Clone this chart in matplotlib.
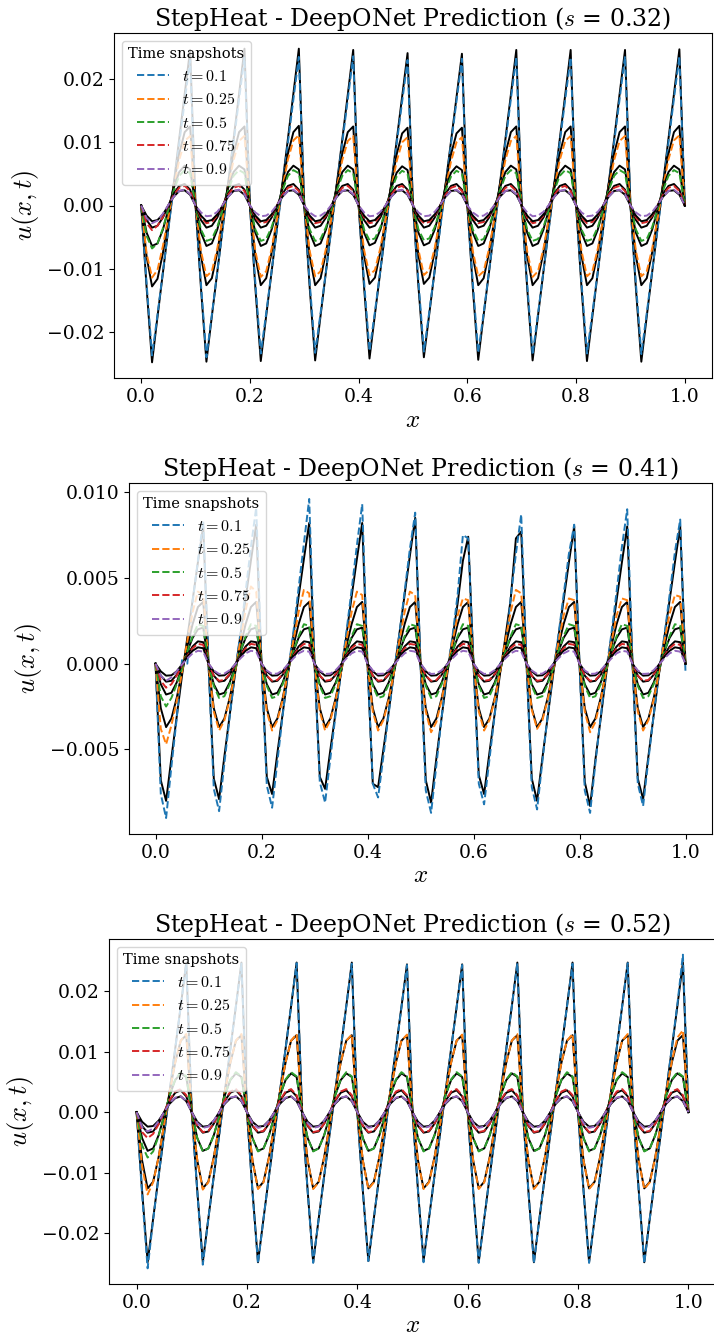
import numpy as np
import matplotlib
matplotlib.use('Agg')
import matplotlib.pyplot as plt
from matplotlib import ticker

plt.rcParams['font.family'] = 'serif'
plt.rcParams['font.serif'] = ['DejaVu Serif']
plt.rcParams['mathtext.fontset'] = 'cm'

# grid and snapshot times
x = np.linspace(0, 1, 101)
times = ['0.1', '0.25', '0.5', '0.75', '0.9']
s_values = ['0.32', '0.41', '0.52']
colors = ['#1f77b4', '#ff7f0e', '#2ca02c', '#d62728', '#9467bd']

# ---- s = 0.32 (values in 1e-3) ----
top_true_01 = [0, -13.0, -24.8, -17.6, -10.6, -3.6, 3.5, 10.6, 17.6, 24.6,
               0, -13.1, -24.7, -17.5, -10.5, -3.5, 3.5, 10.5, 17.6, 24.8,
               0, -13.0, -24.6, -17.4, -10.4, -3.4, 3.6, 10.6, 17.7, 24.8,
               0, -13.0, -24.5, -17.4, -10.4, -3.4, 3.5, 10.5, 17.5, 24.6,
               0, -12.9, -24.2, -17.2, -10.3, -3.4, 3.4, 10.3, 17.2, 24.1,
               0, -12.8, -24.0, -17.1, -10.2, -3.3, 3.4, 10.2, 17.1, 24.0,
               0, -13.0, -24.4, -17.3, -10.4, -3.4, 3.5, 10.5, 17.5, 24.6,
               0, -13.0, -24.5, -17.4, -10.4, -3.4, 3.5, 10.5, 17.5, 24.6,
               0, -13.0, -24.6, -17.5, -10.5, -3.5, 3.5, 10.5, 17.6, 24.6,
               0, -13.1, -24.7, -17.5, -10.5, -3.5, 3.5, 10.6, 17.6, 24.7,
               0]
top_pred_01 = [0, -12.4, -23.7, -17.3, -10.5, -3.7, 3.1, 9.8, 16.5, 23.0,
               0, -12.5, -24.0, -17.3, -10.5, -3.6, 3.2, 10.0, 16.8, 23.4,
               0, -12.2, -23.4, -17.0, -10.3, -3.6, 3.2, 10.0, 16.8, 23.5,
               0, -12.2, -23.3, -17.0, -10.3, -3.6, 3.2, 10.0, 16.8, 23.6,
               0, -12.0, -23.0, -16.8, -10.2, -3.6, 3.1, 9.8, 16.4, 23.0,
               0, -12.0, -23.1, -16.8, -10.2, -3.6, 3.1, 9.8, 16.5, 23.2,
               0, -12.2, -23.3, -17.0, -10.3, -3.6, 3.2, 10.0, 16.8, 23.5,
               0, -12.3, -23.6, -17.1, -10.4, -3.6, 3.2, 10.0, 16.8, 23.4,
               0, -12.2, -23.4, -17.0, -10.3, -3.6, 3.2, 10.0, 16.8, 23.6,
               0, -12.3, -23.5, -17.0, -10.3, -3.6, 3.2, 10.0, 16.9, 23.6,
               0]
top_true_025 = [0, -8.1, -12.8, -11.6, -7.5, -2.0, 3.4, 8.2, 11.6, 12.5,
                0, -8.0, -12.6, -11.5, -7.4, -2.0, 3.4, 8.2, 11.6, 12.5,
                0, -8.0, -12.6, -11.5, -7.4, -2.0, 3.4, 8.2, 11.6, 12.6,
                0, -8.0, -12.6, -11.5, -7.4, -2.0, 3.4, 8.2, 11.6, 12.5,
                0, -7.9, -12.4, -11.4, -7.3, -2.0, 3.3, 8.1, 11.4, 12.3,
                0, -7.9, -12.4, -11.4, -7.3, -2.0, 3.3, 8.1, 11.4, 12.3,
                0, -8.0, -12.6, -11.5, -7.4, -2.0, 3.4, 8.2, 11.6, 12.5,
                0, -8.0, -12.6, -11.5, -7.4, -2.0, 3.4, 8.2, 11.6, 12.5,
                0, -8.0, -12.6, -11.5, -7.4, -2.0, 3.4, 8.2, 11.6, 12.5,
                0, -8.0, -12.6, -11.5, -7.4, -2.0, 3.4, 8.2, 11.6, 12.6,
                0]
top_pred_025 = [0, -7.6, -11.4, -10.2, -6.4, -1.8, 2.9, 7.2, 10.2, 11.0,
                0, -7.2, -11.2, -10.4, -6.8, -2.0, 2.9, 7.2, 10.2, 11.0,
                0, -7.2, -11.3, -10.4, -6.8, -2.0, 2.9, 7.3, 10.3, 11.1,
                0, -7.2, -11.2, -10.4, -6.8, -2.0, 2.9, 7.2, 10.2, 11.0,
                0, -7.0, -11.0, -10.2, -6.7, -2.0, 2.8, 7.0, 10.0, 10.8,
                0, -7.0, -11.0, -10.2, -6.7, -2.0, 2.8, 7.0, 10.0, 10.8,
                0, -7.2, -11.2, -10.4, -6.8, -2.0, 2.9, 7.2, 10.2, 11.0,
                0, -7.2, -11.3, -10.4, -6.8, -2.0, 2.9, 7.2, 10.2, 11.0,
                0, -7.2, -11.2, -10.4, -6.8, -2.0, 2.9, 7.2, 10.2, 11.0,
                0, -7.2, -11.2, -10.4, -6.8, -2.0, 2.9, 7.3, 10.3, 11.1,
                0]
top_true_05 = [0, -4.3, -6.4, -6.0, -3.8, -0.6, 2.8, 5.3, 6.3, 5.7,
               0, -4.3, -6.4, -6.0, -3.8, -0.6, 2.8, 5.3, 6.3, 5.7,
               0, -4.3, -6.4, -6.0, -3.8, -0.6, 2.8, 5.3, 6.3, 5.7,
               0, -4.3, -6.4, -6.0, -3.8, -0.6, 2.8, 5.3, 6.3, 5.7,
               0, -4.3, -6.3, -5.9, -3.8, -0.6, 2.8, 5.2, 6.2, 5.6,
               0, -4.3, -6.3, -5.9, -3.8, -0.6, 2.8, 5.2, 6.2, 5.6,
               0, -4.3, -6.4, -6.0, -3.8, -0.6, 2.8, 5.3, 6.3, 5.7,
               0, -4.3, -6.4, -6.0, -3.8, -0.6, 2.8, 5.3, 6.3, 5.7,
               0, -4.3, -6.4, -6.0, -3.8, -0.6, 2.8, 5.3, 6.3, 5.7,
               0, -4.3, -6.4, -6.0, -3.8, -0.6, 2.8, 5.3, 6.3, 5.7,
               0]
top_pred_05 = [0, -4.8, -6.8, -6.0, -3.6, -0.6, 2.4, 4.7, 5.6, 5.1,
               0, -3.8, -5.6, -5.3, -3.4, -0.6, 2.4, 4.7, 5.6, 5.1,
               0, -3.8, -5.6, -5.3, -3.4, -0.6, 2.4, 4.7, 5.6, 5.1,
               0, -3.8, -5.6, -5.3, -3.4, -0.6, 2.4, 4.7, 5.6, 5.1,
               0, -3.8, -5.5, -5.2, -3.4, -0.6, 2.4, 4.6, 5.5, 5.0,
               0, -3.8, -5.5, -5.2, -3.4, -0.6, 2.4, 4.6, 5.5, 5.0,
               0, -3.8, -5.6, -5.3, -3.4, -0.6, 2.4, 4.7, 5.6, 5.1,
               0, -3.8, -5.6, -5.3, -3.4, -0.6, 2.4, 4.7, 5.6, 5.1,
               0, -3.8, -5.6, -5.3, -3.4, -0.6, 2.4, 4.7, 5.6, 5.1,
               0, -3.8, -5.6, -5.3, -3.4, -0.6, 2.4, 4.7, 5.6, 5.1,
               0]
top_true_075 = [0, -2.3, -3.5, -3.2, -1.9, 0.0, 1.9, 3.1, 3.4, 2.5,
                0, -2.3, -3.5, -3.2, -1.9, 0.0, 1.9, 3.1, 3.4, 2.5,
                0, -2.3, -3.5, -3.2, -1.9, 0.0, 1.9, 3.1, 3.4, 2.5,
                0, -2.3, -3.5, -3.2, -1.9, 0.0, 1.9, 3.1, 3.4, 2.5,
                0, -2.3, -3.5, -3.2, -1.9, 0.0, 1.9, 3.1, 3.4, 2.5,
                0, -2.3, -3.5, -3.2, -1.9, 0.0, 1.9, 3.1, 3.4, 2.5,
                0, -2.3, -3.5, -3.2, -1.9, 0.0, 1.9, 3.1, 3.4, 2.5,
                0, -2.3, -3.5, -3.2, -1.9, 0.0, 1.9, 3.1, 3.4, 2.5,
                0, -2.3, -3.5, -3.2, -1.9, 0.0, 1.9, 3.1, 3.4, 2.5,
                0, -2.3, -3.5, -3.2, -1.9, 0.0, 1.9, 3.1, 3.4, 2.5,
                0]
top_pred_075 = [0, -2.8, -3.9, -3.2, -1.8, 0.0, 1.7, 2.8, 3.1, 2.3,
                0, -1.9, -2.8, -2.6, -1.6, 0.0, 1.7, 2.8, 3.1, 2.3,
                0, -1.9, -2.8, -2.6, -1.6, 0.0, 1.7, 2.8, 3.1, 2.3,
                0, -1.9, -2.8, -2.6, -1.6, 0.0, 1.7, 2.8, 3.1, 2.3,
                0, -1.9, -2.8, -2.6, -1.6, 0.0, 1.7, 2.8, 3.1, 2.3,
                0, -1.9, -2.8, -2.6, -1.6, 0.0, 1.7, 2.8, 3.1, 2.3,
                0, -1.9, -2.8, -2.6, -1.6, 0.0, 1.7, 2.8, 3.1, 2.3,
                0, -1.9, -2.8, -2.6, -1.6, 0.0, 1.7, 2.8, 3.1, 2.3,
                0, -1.9, -2.8, -2.6, -1.6, 0.0, 1.7, 2.8, 3.1, 2.3,
                0, -1.9, -2.8, -2.6, -1.6, 0.0, 1.7, 2.8, 3.1, 2.3,
                0]
top_true_09 = [0, -1.6, -2.5, -2.3, -1.4, 0.0, 1.4, 2.3, 2.4, 1.7,
               0, -1.6, -2.5, -2.3, -1.4, 0.0, 1.4, 2.3, 2.4, 1.7,
               0, -1.6, -2.5, -2.3, -1.4, 0.0, 1.4, 2.3, 2.4, 1.7,
               0, -1.6, -2.5, -2.3, -1.4, 0.0, 1.4, 2.3, 2.4, 1.7,
               0, -1.6, -2.5, -2.3, -1.4, 0.0, 1.4, 2.3, 2.4, 1.7,
               0, -1.6, -2.5, -2.3, -1.4, 0.0, 1.4, 2.3, 2.4, 1.7,
               0, -1.6, -2.5, -2.3, -1.4, 0.0, 1.4, 2.3, 2.4, 1.7,
               0, -1.6, -2.5, -2.3, -1.4, 0.0, 1.4, 2.3, 2.4, 1.7,
               0, -1.6, -2.5, -2.3, -1.4, 0.0, 1.4, 2.3, 2.4, 1.7,
               0, -1.6, -2.5, -2.3, -1.4, 0.0, 1.4, 2.3, 2.4, 1.7,
               0]
top_pred_09 = [0, -2.0, -2.8, -2.4, -1.3, 0.1, 1.4, 2.3, 2.5, 1.8,
               0, -1.1, -1.7, -1.6, -1.0, 0.1, 1.4, 2.3, 2.5, 1.8,
               0, -1.1, -1.7, -1.6, -1.0, 0.1, 1.4, 2.3, 2.5, 1.8,
               0, -1.1, -1.7, -1.6, -1.0, 0.1, 1.4, 2.3, 2.5, 1.8,
               0, -1.1, -1.7, -1.6, -1.0, 0.1, 1.4, 2.3, 2.5, 1.8,
               0, -1.1, -1.7, -1.6, -1.0, 0.1, 1.4, 2.3, 2.5, 1.8,
               0, -1.1, -1.7, -1.6, -1.0, 0.1, 1.4, 2.3, 2.5, 1.8,
               0, -1.1, -1.7, -1.6, -1.0, 0.1, 1.4, 2.3, 2.5, 1.8,
               0, -1.1, -1.7, -1.6, -1.0, 0.1, 1.4, 2.3, 2.5, 1.8,
               0, -1.1, -1.7, -1.6, -1.0, 0.1, 1.4, 2.3, 2.5, 1.8,
               0]

# ---- s = 0.41 (values in 1e-3) ----
mid_true_01 = [0, -6.8, -8.0, -5.5, -3.1, -0.7, 1.5, 3.7, 5.9, 8.0,
               0, -6.7, -7.9, -5.4, -3.0, -0.6, 1.6, 3.8, 6.0, 8.1,
               0, -6.6, -7.6, -5.2, -2.9, -0.6, 1.6, 3.9, 6.1, 8.2,
               0, -6.6, -7.3, -5.0, -2.8, -0.5, 1.6, 3.9, 6.1, 8.2,
               0, -7.0, -7.2, -5.0, -2.8, -0.5, 1.7, 4.0, 6.3, 8.5,
               0, -6.8, -8.1, -5.5, -3.1, -0.7, 1.4, 3.5, 6.0, 7.4,
               0, -6.5, -7.6, -5.2, -2.9, -0.6, 1.5, 3.7, 7.3, 7.7,
               0, -6.7, -8.0, -5.5, -3.1, -0.7, 1.5, 3.7, 5.9, 8.0,
               0, -6.9, -8.3, -5.6, -3.2, -0.7, 1.5, 3.7, 5.9, 8.0,
               0, -6.7, -7.9, -5.4, -3.0, -0.6, 1.5, 3.7, 5.9, 8.0,
               0]
mid_pred_01 = [0, -7.6, -9.0, -6.0, -3.2, 0.2, 0.0, 3.6, 6.0, 8.3,
               0, -7.3, -8.6, -5.8, -3.1, -0.5, 1.7, 4.2, 6.8, 9.1,
               0, -7.1, -8.4, -5.7, -3.0, -0.5, 1.8, 4.4, 7.0, 9.6,
               0, -6.9, -8.1, -5.5, -2.9, -0.5, 1.8, 4.3, 6.9, 9.3,
               0, -7.0, -7.8, -5.4, -2.9, -0.5, 1.7, 4.2, 6.7, 8.8,
               0, -7.4, -8.7, -5.9, -3.1, -0.5, 1.5, 4.0, 7.5, 7.3,
               0, -7.0, -8.2, -5.6, -3.0, 0.0, 0.4, 3.8, 6.4, 8.7,
               0, -7.2, -8.5, -5.7, -3.0, -0.5, 1.6, 4.0, 6.4, 8.1,
               0, -7.4, -8.7, -5.8, -3.1, -0.5, 1.7, 4.2, 6.8, 9.0,
               0, -7.0, -8.3, -5.6, -3.0, -0.5, 1.6, 4.0, 6.5, 8.4,
               -0.5]
mid_true_025 = [0, -2.6, -3.7, -3.2, -2.0, -0.5, 1.0, 2.3, 3.3, 3.6,
                0, -2.6, -3.7, -3.2, -2.0, -0.5, 1.0, 2.3, 3.3, 3.6,
                0, -2.6, -3.7, -3.2, -2.0, -0.5, 1.0, 2.3, 3.3, 3.6,
                0, -2.6, -3.7, -3.2, -2.0, -0.5, 1.0, 2.3, 3.3, 3.6,
                0, -2.6, -3.7, -3.2, -2.0, -0.5, 1.0, 2.3, 3.3, 3.6,
                0, -2.6, -3.7, -3.2, -2.0, -0.5, 1.0, 2.3, 3.3, 3.6,
                0, -2.6, -3.7, -3.2, -2.0, -0.5, 1.0, 2.3, 3.3, 3.6,
                0, -2.6, -3.7, -3.2, -2.0, -0.5, 1.0, 2.3, 3.3, 3.6,
                0, -2.6, -3.7, -3.2, -2.0, -0.5, 1.0, 2.3, 3.3, 3.6,
                0, -2.6, -3.7, -3.2, -2.0, -0.5, 1.0, 2.3, 3.3, 3.6,
                0]
mid_pred_025 = [0, -3.8, -4.7, -3.6, -2.2, -0.5, 1.3, 3.0, 4.2, 4.0,
                0, -2.8, -3.9, -3.3, -2.1, -0.5, 1.3, 3.1, 4.5, 4.2,
                0, -2.8, -3.9, -3.3, -2.1, -0.5, 1.3, 3.0, 4.3, 4.1,
                0, -2.8, -3.9, -3.3, -2.1, -0.5, 1.3, 3.0, 4.2, 4.0,
                0, -2.8, -3.9, -3.3, -2.1, -0.5, 1.3, 3.0, 4.2, 4.0,
                0, -2.8, -4.0, -3.4, -2.1, -0.5, 1.2, 2.8, 3.8, 3.7,
                0, -2.8, -3.9, -3.3, -2.1, -0.5, 1.3, 3.0, 4.3, 4.1,
                0, -2.7, -3.8, -3.3, -2.1, -0.5, 1.2, 2.8, 3.8, 3.7,
                0, -2.8, -4.0, -3.4, -2.1, -0.5, 1.2, 2.8, 3.8, 3.7,
                0, -2.8, -3.9, -3.3, -2.1, -0.5, 1.3, 2.9, 4.0, 3.9,
                0]
mid_true_05 = [0, -1.2, -1.8, -1.7, -1.1, -0.2, 0.7, 1.5, 2.0, 2.1,
               0, -1.2, -1.8, -1.7, -1.1, -0.2, 0.7, 1.5, 2.0, 2.1,
               0, -1.2, -1.8, -1.7, -1.1, -0.2, 0.7, 1.5, 2.0, 2.1,
               0, -1.2, -1.8, -1.7, -1.1, -0.2, 0.7, 1.5, 2.0, 2.1,
               0, -1.2, -1.8, -1.7, -1.1, -0.2, 0.7, 1.5, 2.0, 2.1,
               0, -1.2, -1.8, -1.7, -1.1, -0.2, 0.7, 1.5, 2.0, 2.1,
               0, -1.2, -1.8, -1.7, -1.1, -0.2, 0.7, 1.5, 2.0, 2.1,
               0, -1.2, -1.8, -1.7, -1.1, -0.2, 0.7, 1.5, 2.0, 2.1,
               0, -1.2, -1.8, -1.7, -1.1, -0.2, 0.7, 1.5, 2.0, 2.1,
               0, -1.2, -1.8, -1.7, -1.1, -0.2, 0.7, 1.5, 2.0, 2.1,
               0]
mid_pred_05 = [0, -1.9, -2.5, -2.0, -1.2, -0.3, 0.7, 1.6, 2.3, 2.2,
               0, -1.3, -2.0, -1.9, -1.2, -0.3, 0.7, 1.6, 2.3, 2.2,
               0, -1.3, -2.0, -1.9, -1.2, -0.3, 0.7, 1.6, 2.3, 2.2,
               0, -1.3, -2.0, -1.9, -1.2, -0.3, 0.7, 1.6, 2.3, 2.2,
               0, -1.3, -2.0, -1.9, -1.2, -0.3, 0.7, 1.6, 2.3, 2.2,
               0, -1.3, -2.0, -1.9, -1.2, -0.3, 0.7, 1.6, 2.3, 2.2,
               0, -1.3, -2.0, -1.9, -1.2, -0.3, 0.7, 1.6, 2.3, 2.2,
               0, -1.3, -2.0, -1.9, -1.2, -0.3, 0.7, 1.6, 2.3, 2.2,
               0, -1.3, -2.0, -1.9, -1.2, -0.3, 0.7, 1.6, 2.3, 2.2,
               0, -1.3, -2.0, -1.9, -1.2, -0.3, 0.7, 1.6, 2.3, 2.2,
               0]
mid_true_075 = [0, -0.7, -1.05, -1.0, -0.65, -0.1, 0.5, 1.0, 1.3, 1.25,
                0, -0.7, -1.05, -1.0, -0.65, -0.1, 0.5, 1.0, 1.3, 1.25,
                0, -0.7, -1.05, -1.0, -0.65, -0.1, 0.5, 1.0, 1.3, 1.25,
                0, -0.7, -1.05, -1.0, -0.65, -0.1, 0.5, 1.0, 1.3, 1.25,
                0, -0.7, -1.05, -1.0, -0.65, -0.1, 0.5, 1.0, 1.3, 1.25,
                0, -0.7, -1.05, -1.0, -0.65, -0.1, 0.5, 1.0, 1.3, 1.25,
                0, -0.7, -1.05, -1.0, -0.65, -0.1, 0.5, 1.0, 1.3, 1.25,
                0, -0.7, -1.05, -1.0, -0.65, -0.1, 0.5, 1.0, 1.3, 1.25,
                0, -0.7, -1.05, -1.0, -0.65, -0.1, 0.5, 1.0, 1.3, 1.25,
                0, -0.7, -1.05, -1.0, -0.65, -0.1, 0.5, 1.0, 1.3, 1.25,
                0]
mid_pred_075 = [0, -1.0, -1.4, -1.2, -0.7, -0.1, 0.45, 0.9, 1.15, 1.1,
                0, -0.7, -1.0, -0.95, -0.6, -0.1, 0.45, 0.9, 1.15, 1.1,
                0, -0.7, -1.0, -0.95, -0.6, -0.1, 0.45, 0.9, 1.15, 1.1,
                0, -0.7, -1.0, -0.95, -0.6, -0.1, 0.45, 0.9, 1.15, 1.1,
                0, -0.7, -1.0, -0.95, -0.6, -0.1, 0.45, 0.9, 1.15, 1.1,
                0, -0.7, -1.0, -0.95, -0.6, -0.1, 0.45, 0.9, 1.15, 1.1,
                0, -0.7, -1.0, -0.95, -0.6, -0.1, 0.45, 0.9, 1.15, 1.1,
                0, -0.7, -1.0, -0.95, -0.6, -0.1, 0.45, 0.9, 1.15, 1.1,
                0, -0.7, -1.0, -0.95, -0.6, -0.1, 0.45, 0.9, 1.15, 1.1,
                0, -0.7, -1.0, -0.95, -0.6, -0.1, 0.45, 0.9, 1.15, 1.1,
                0]
mid_true_09 = [0, -0.45, -0.7, -0.68, -0.45, -0.05, 0.4, 0.75, 0.95, 0.9,
               0, -0.45, -0.7, -0.68, -0.45, -0.05, 0.4, 0.75, 0.95, 0.9,
               0, -0.45, -0.7, -0.68, -0.45, -0.05, 0.4, 0.75, 0.95, 0.9,
               0, -0.45, -0.7, -0.68, -0.45, -0.05, 0.4, 0.75, 0.95, 0.9,
               0, -0.45, -0.7, -0.68, -0.45, -0.05, 0.4, 0.75, 0.95, 0.9,
               0, -0.45, -0.7, -0.68, -0.45, -0.05, 0.4, 0.75, 0.95, 0.9,
               0, -0.45, -0.7, -0.68, -0.45, -0.05, 0.4, 0.75, 0.95, 0.9,
               0, -0.45, -0.7, -0.68, -0.45, -0.05, 0.4, 0.75, 0.95, 0.9,
               0, -0.45, -0.7, -0.68, -0.45, -0.05, 0.4, 0.75, 0.95, 0.9,
               0, -0.45, -0.7, -0.68, -0.45, -0.05, 0.4, 0.75, 0.95, 0.9,
               0]
mid_pred_09 = [0, -0.7, -1.0, -0.8, -0.45, -0.05, 0.3, 0.6, 0.75, 0.7,
               0, -0.4, -0.6, -0.58, -0.38, -0.05, 0.3, 0.6, 0.75, 0.7,
               0, -0.4, -0.6, -0.58, -0.38, -0.05, 0.3, 0.6, 0.75, 0.7,
               0, -0.4, -0.6, -0.58, -0.38, -0.05, 0.3, 0.6, 0.75, 0.7,
               0, -0.4, -0.6, -0.58, -0.38, -0.05, 0.3, 0.6, 0.75, 0.7,
               0, -0.4, -0.6, -0.58, -0.38, -0.05, 0.3, 0.6, 0.75, 0.7,
               0, -0.4, -0.6, -0.58, -0.38, -0.05, 0.3, 0.6, 0.75, 0.7,
               0, -0.4, -0.6, -0.58, -0.38, -0.05, 0.3, 0.6, 0.75, 0.7,
               0, -0.4, -0.6, -0.58, -0.38, -0.05, 0.3, 0.6, 0.75, 0.7,
               0, -0.4, -0.6, -0.58, -0.38, -0.05, 0.3, 0.6, 0.75, 0.7,
               0]

# ---- s = 0.52 (values in 1e-3) ----
bot_true_01 = [0, -13.0, -24.8, -17.6, -10.5, -3.5, 3.5, 10.5, 17.5, 24.7,
               0, -13.0, -24.8, -17.6, -10.5, -3.5, 3.5, 10.5, 17.5, 24.7,
               0, -13.0, -24.8, -17.6, -10.5, -3.5, 3.5, 10.5, 17.5, 24.7,
               0, -13.0, -24.8, -17.6, -10.5, -3.5, 3.5, 10.5, 17.5, 24.7,
               0, -13.0, -24.6, -17.5, -10.4, -3.5, 3.5, 10.5, 17.4, 24.4,
               0, -13.0, -24.6, -17.5, -10.4, -3.5, 3.5, 10.5, 17.4, 24.4,
               0, -13.0, -24.8, -17.6, -10.5, -3.5, 3.5, 10.5, 17.5, 24.7,
               0, -13.0, -24.8, -17.6, -10.5, -3.5, 3.5, 10.5, 17.5, 24.7,
               0, -13.0, -24.8, -17.6, -10.5, -3.5, 3.5, 10.5, 17.5, 24.7,
               0, -13.0, -24.8, -17.6, -10.5, -3.5, 3.5, 10.5, 17.5, 24.7,
               0]
bot_pred_01 = [0, -13.6, -25.8, -17.8, -10.5, -3.5, 3.5, 10.5, 17.5, 24.5,
               0, -13.2, -25.2, -17.6, -10.5, -3.5, 3.5, 10.5, 17.5, 24.5,
               0, -13.2, -25.0, -17.6, -10.5, -3.5, 3.5, 10.5, 17.5, 24.6,
               0, -13.1, -24.9, -17.6, -10.5, -3.5, 3.5, 10.5, 17.5, 24.5,
               0, -13.0, -24.6, -17.5, -10.4, -3.5, 3.5, 10.4, 17.3, 24.3,
               0, -13.0, -24.8, -17.5, -10.4, -3.5, 3.5, 10.4, 17.3, 24.3,
               0, -13.1, -24.9, -17.6, -10.5, -3.5, 3.5, 10.5, 17.5, 24.6,
               0, -13.1, -25.0, -17.6, -10.5, -3.5, 3.5, 10.5, 17.5, 24.5,
               0, -13.1, -24.9, -17.6, -10.5, -3.5, 3.5, 10.5, 17.5, 24.6,
               0, -13.1, -25.0, -17.6, -10.5, -3.5, 3.6, 10.7, 17.8, 26.0,
               0]
bot_true_025 = [0, -8.0, -12.6, -11.5, -7.4, -2.0, 3.4, 8.2, 11.8, 12.7,
                0, -8.0, -12.6, -11.5, -7.4, -2.0, 3.4, 8.2, 11.8, 12.7,
                0, -8.0, -12.6, -11.5, -7.4, -2.0, 3.4, 8.2, 11.8, 12.7,
                0, -8.0, -12.6, -11.5, -7.4, -2.0, 3.4, 8.2, 11.8, 12.7,
                0, -8.0, -12.6, -11.5, -7.4, -2.0, 3.4, 8.2, 11.8, 12.7,
                0, -8.0, -12.6, -11.5, -7.4, -2.0, 3.4, 8.2, 11.8, 12.7,
                0, -8.0, -12.6, -11.5, -7.4, -2.0, 3.4, 8.2, 11.8, 12.7,
                0, -8.0, -12.6, -11.5, -7.4, -2.0, 3.4, 8.2, 11.8, 12.7,
                0, -8.0, -12.6, -11.5, -7.4, -2.0, 3.4, 8.2, 11.8, 12.7,
                0, -8.0, -12.6, -11.5, -7.4, -2.0, 3.4, 8.2, 11.8, 12.7,
                0]
bot_pred_025 = [0, -9.0, -13.6, -11.6, -7.4, -2.0, 3.4, 8.2, 11.8, 12.9,
                0, -8.0, -12.8, -11.6, -7.5, -2.0, 3.4, 8.2, 11.8, 12.9,
                0, -8.0, -12.7, -11.6, -7.5, -2.0, 3.4, 8.2, 11.8, 12.9,
                0, -8.0, -12.7, -11.6, -7.5, -2.0, 3.4, 8.2, 11.8, 12.8,
                0, -8.0, -12.7, -11.6, -7.5, -2.0, 3.4, 8.2, 11.8, 12.8,
                0, -8.0, -12.7, -11.6, -7.5, -2.0, 3.4, 8.2, 11.8, 12.8,
                0, -8.0, -12.7, -11.6, -7.5, -2.0, 3.4, 8.2, 11.8, 12.9,
                0, -8.0, -12.7, -11.6, -7.5, -2.0, 3.4, 8.2, 11.8, 12.9,
                0, -8.0, -12.7, -11.6, -7.5, -2.0, 3.4, 8.2, 11.8, 12.9,
                0, -8.0, -12.7, -11.6, -7.5, -2.0, 3.5, 8.4, 12.3, 13.5,
                0]
bot_true_05 = [0, -4.3, -6.4, -6.0, -3.8, -0.6, 2.8, 5.3, 6.4, 5.8,
               0, -4.3, -6.4, -6.0, -3.8, -0.6, 2.8, 5.3, 6.4, 5.8,
               0, -4.3, -6.4, -6.0, -3.8, -0.6, 2.8, 5.3, 6.4, 5.8,
               0, -4.3, -6.4, -6.0, -3.8, -0.6, 2.8, 5.3, 6.4, 5.8,
               0, -4.3, -6.4, -6.0, -3.8, -0.6, 2.8, 5.3, 6.4, 5.8,
               0, -4.3, -6.4, -6.0, -3.8, -0.6, 2.8, 5.3, 6.4, 5.8,
               0, -4.3, -6.4, -6.0, -3.8, -0.6, 2.8, 5.3, 6.4, 5.8,
               0, -4.3, -6.4, -6.0, -3.8, -0.6, 2.8, 5.3, 6.4, 5.8,
               0, -4.3, -6.4, -6.0, -3.8, -0.6, 2.8, 5.3, 6.4, 5.8,
               0, -4.3, -6.4, -6.0, -3.8, -0.6, 2.8, 5.3, 6.4, 5.8,
               0]
bot_pred_05 = [0, -5.5, -7.5, -6.5, -3.9, -0.6, 2.8, 5.4, 6.6, 5.9,
               0, -4.3, -6.5, -6.0, -3.8, -0.6, 2.8, 5.4, 6.6, 5.9,
               0, -4.3, -6.5, -6.0, -3.8, -0.6, 2.8, 5.4, 6.6, 5.9,
               0, -4.3, -6.5, -6.0, -3.8, -0.6, 2.8, 5.4, 6.6, 5.9,
               0, -4.3, -6.5, -6.0, -3.8, -0.6, 2.8, 5.4, 6.6, 5.9,
               0, -4.3, -6.5, -6.0, -3.8, -0.6, 2.8, 5.4, 6.6, 5.9,
               0, -4.3, -6.5, -6.0, -3.8, -0.6, 2.8, 5.4, 6.6, 5.9,
               0, -4.3, -6.5, -6.0, -3.8, -0.6, 2.8, 5.4, 6.6, 5.9,
               0, -4.3, -6.5, -6.0, -3.8, -0.6, 2.8, 5.4, 6.6, 5.9,
               0, -4.3, -6.5, -6.0, -3.8, -0.6, 2.8, 5.4, 6.6, 5.9,
               0]
bot_true_075 = [0, -2.3, -3.4, -3.2, -1.9, 0.0, 1.9, 3.2, 3.6, 2.6,
                0, -2.3, -3.4, -3.2, -1.9, 0.0, 1.9, 3.2, 3.6, 2.6,
                0, -2.3, -3.4, -3.2, -1.9, 0.0, 1.9, 3.2, 3.6, 2.6,
                0, -2.3, -3.4, -3.2, -1.9, 0.0, 1.9, 3.2, 3.6, 2.6,
                0, -2.3, -3.4, -3.2, -1.9, 0.0, 1.9, 3.2, 3.6, 2.6,
                0, -2.3, -3.4, -3.2, -1.9, 0.0, 1.9, 3.2, 3.6, 2.6,
                0, -2.3, -3.4, -3.2, -1.9, 0.0, 1.9, 3.2, 3.6, 2.6,
                0, -2.3, -3.4, -3.2, -1.9, 0.0, 1.9, 3.2, 3.6, 2.6,
                0, -2.3, -3.4, -3.2, -1.9, 0.0, 1.9, 3.2, 3.6, 2.6,
                0, -2.3, -3.4, -3.2, -1.9, 0.0, 1.9, 3.2, 3.6, 2.6,
                0]
bot_pred_075 = [0, -3.3, -4.3, -3.6, -2.0, 0.0, 2.0, 3.4, 3.8, 2.8,
                0, -2.2, -3.3, -3.1, -1.9, 0.0, 2.0, 3.4, 3.8, 2.8,
                0, -2.2, -3.3, -3.1, -1.9, 0.0, 2.0, 3.4, 3.8, 2.8,
                0, -2.2, -3.3, -3.1, -1.9, 0.0, 2.0, 3.4, 3.8, 2.8,
                0, -2.2, -3.3, -3.1, -1.9, 0.0, 2.0, 3.4, 3.8, 2.8,
                0, -2.2, -3.3, -3.1, -1.9, 0.0, 2.0, 3.4, 3.8, 2.8,
                0, -2.2, -3.3, -3.1, -1.9, 0.0, 2.0, 3.4, 3.8, 2.8,
                0, -2.2, -3.3, -3.1, -1.9, 0.0, 2.0, 3.4, 3.8, 2.8,
                0, -2.2, -3.3, -3.1, -1.9, 0.0, 2.0, 3.4, 3.8, 2.8,
                0, -2.2, -3.3, -3.1, -1.9, 0.0, 2.0, 3.4, 3.8, 2.8,
                0]
bot_true_09 = [0, -1.6, -2.4, -2.3, -1.4, 0.0, 1.4, 2.3, 2.6, 1.8,
               0, -1.6, -2.4, -2.3, -1.4, 0.0, 1.4, 2.3, 2.6, 1.8,
               0, -1.6, -2.4, -2.3, -1.4, 0.0, 1.4, 2.3, 2.6, 1.8,
               0, -1.6, -2.4, -2.3, -1.4, 0.0, 1.4, 2.3, 2.6, 1.8,
               0, -1.6, -2.4, -2.3, -1.4, 0.0, 1.4, 2.3, 2.6, 1.8,
               0, -1.6, -2.4, -2.3, -1.4, 0.0, 1.4, 2.3, 2.6, 1.8,
               0, -1.6, -2.4, -2.3, -1.4, 0.0, 1.4, 2.3, 2.6, 1.8,
               0, -1.6, -2.4, -2.3, -1.4, 0.0, 1.4, 2.3, 2.6, 1.8,
               0, -1.6, -2.4, -2.3, -1.4, 0.0, 1.4, 2.3, 2.6, 1.8,
               0, -1.6, -2.4, -2.3, -1.4, 0.0, 1.4, 2.3, 2.6, 1.8,
               0]
bot_pred_09 = [0, -2.5, -3.2, -2.7, -1.5, 0.0, 1.5, 2.4, 2.6, 1.9,
               0, -1.8, -2.6, -2.4, -1.4, 0.0, 1.5, 2.4, 2.6, 1.9,
               0, -1.8, -2.6, -2.4, -1.4, 0.0, 1.5, 2.4, 2.6, 1.9,
               0, -1.8, -2.6, -2.4, -1.4, 0.0, 1.5, 2.4, 2.6, 1.9,
               0, -1.8, -2.6, -2.4, -1.4, 0.0, 1.5, 2.4, 2.6, 1.9,
               0, -1.8, -2.6, -2.4, -1.4, 0.0, 1.5, 2.4, 2.6, 1.9,
               0, -1.8, -2.6, -2.4, -1.4, 0.0, 1.5, 2.4, 2.6, 1.9,
               0, -1.8, -2.6, -2.4, -1.4, 0.0, 1.5, 2.4, 2.6, 1.9,
               0, -1.8, -2.6, -2.4, -1.4, 0.0, 1.5, 2.4, 2.6, 1.9,
               0, -1.8, -2.6, -2.4, -1.4, 0.0, 1.5, 2.4, 2.6, 1.9,
               0]

top_true = [top_true_01, top_true_025, top_true_05, top_true_075, top_true_09]
top_pred = [top_pred_01, top_pred_025, top_pred_05, top_pred_075, top_pred_09]
mid_true = [mid_true_01, mid_true_025, mid_true_05, mid_true_075, mid_true_09]
mid_pred = [mid_pred_01, mid_pred_025, mid_pred_05, mid_pred_075, mid_pred_09]
bot_true = [bot_true_01, bot_true_025, bot_true_05, bot_true_075, bot_true_09]
bot_pred = [bot_pred_01, bot_pred_025, bot_pred_05, bot_pred_075, bot_pred_09]

W, H = 714, 1340
fig = plt.figure(figsize=(W / 100, H / 100), dpi=100)

# axes boxes in pixels: left, top, right, bottom
boxes = [(114, 33, 712, 378), (129, 483, 712, 834), (109, 939, 716, 1284)]
ysteps = [0.01, 0.005, 0.01]


def draw(ax, trues, preds, s, ystep):
    for tr, pr, t, c in zip(trues, preds, times, colors):
        ax.plot(x, np.array(tr) * 1e-3, color='k', lw=1.4)
        ax.plot(x, np.array(pr) * 1e-3, '--', color=c, lw=1.4, label=f'$t={t}$')
    ax.set_title(f'StepHeat - DeepONet Prediction ($s$ = {s})', fontsize=17, pad=5)
    ax.set_xlabel('$x$', fontsize=18, labelpad=2)
    ax.set_ylabel('$u(x,t)$', fontsize=19)
    ax.yaxis.set_major_locator(ticker.MultipleLocator(ystep))
    ax.tick_params(labelsize=13.5)
    ax.legend(title='Time snapshots', loc='upper left', fontsize=11.5,
              title_fontsize=10.5, labelspacing=0.4)


for (l, t, r, b), trues, preds, s, ys in zip(boxes, [top_true, mid_true, bot_true],
                                             [top_pred, mid_pred, bot_pred],
                                             s_values, ysteps):
    ax = fig.add_axes([l / W, 1 - b / H, (r - l) / W, (b - t) / H])
    draw(ax, trues, preds, s, ys)

fig.savefig('out.png', dpi=100)
